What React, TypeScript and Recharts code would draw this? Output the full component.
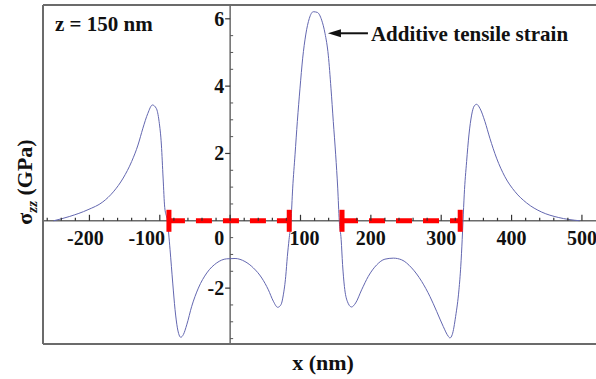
import { LineChart, Line, XAxis, YAxis, ReferenceLine, ReferenceDot } from "recharts";

// stress profile along x
const positionNm = [
  -251, -228, -202, -181, -166, -152, -140, -131, -124, -117, -110.5, -105, -101, -97.7, -95.3, -93,
  -89.2, -85.4, -81.6, -78.3, -75, -70.2, -66.5, -61.7, -54.6, -45.2, -33.2, -19, -5, 7, 21, 33, 45,
  54.3, 61.4, 67.6, 72.3, 75.6, 79, 81.3, 83.7, 86.5, 88.9, 92.2, 95.5, 99.3, 103.1, 107.4, 112.5,
  118.2, 123.9, 130.1, 134.8, 139.5, 143.3, 146.6, 150, 152.9, 155.1, 157.8, 159.8, 162.4, 166.5,
  172.5, 178.4, 186.9, 196.4, 208.3, 220, 232, 243.8, 258, 272.2, 284, 293.5, 302.9, 310, 312.4,
  315.7, 320.5, 325.2, 327.8, 329.8, 331, 332.7, 336.1, 339.4, 343.2, 346.9, 350.3, 355, 362.1,
  369.2, 378.7, 390.5, 404.7, 421.4, 442.7, 466.3, 497,
];
const sigmaGPa = [
  0, 0.13, 0.33, 0.56, 0.86, 1.27, 1.76, 2.25, 2.75, 3.19, 3.44, 3.34, 2.95, 2.25, 1.27, 0.4,
  0, -0.86, -1.85, -2.64, -3.18, -3.46, -3.38, -3.09, -2.54, -2.0, -1.55, -1.25, -1.13, -1.12, -1.21,
  -1.4, -1.7, -2.05, -2.39, -2.57, -2.49, -2.2, -1.65, -1.06, -0.56, 0, 0.97, 1.96, 2.95, 3.94, 4.83,
  5.52, 6.01, 6.21, 6.19, 5.96, 5.57, 4.92, 3.94, 2.95, 1.96, 0.97, 0, -0.56, -1.3, -1.95, -2.39,
  -2.56, -2.44, -2.05, -1.65, -1.31, -1.14, -1.11, -1.16, -1.4, -1.8, -2.25, -2.69, -3.14, -3.43,
  -3.48, -3.38, -2.84, -2.05, -1.35, -0.56, 0, 0.77, 1.76, 2.55, 3.14, 3.41, 3.46, 3.34, 2.95, 2.45,
  1.86, 1.31, 0.87, 0.53, 0.26, 0.1, 0,
];

const xMajorTicks = [-200, -100, 0, 100, 200, 300, 400, 500];
const xMinorTicks = [
  -260, -240, -220, -180, -160, -140, -120, -80, -60, -40, -20, 20, 40, 60, 80, 120, 140, 160, 180,
  220, 240, 260, 280, 320, 340, 360, 380, 420, 440, 460, 480,
];
const yMajorTicks = [-2, 2, 4, 6];
const yMinorTicks = [-3.5, -3, -2.5, -1.5, -1, -0.5, 0.5, 1, 1.5, 2.5, 3, 3.5, 4.5, 5, 5.5];

// red dashed regions on the x axis
const spanStart = [-87, 159];
const spanEnd = [84, 327];

const arrowTipX = 139;
const arrowTipY = 5.57;
const arrowText = "Additive tensile strain";

const xDomain = [-266, 520];
const yDomain = [-3.66, 6.41];

const data = positionNm.map((x, i) => ({ x, sigma: sigmaGPa[i] }));

const FONT = '"Liberation Serif", "Times New Roman", serif';
const AXIS = "#6b6b6b";
const nudge: Record<number, number> = { [-200]: -4, [-100]: -13, 0: -11, 100: 4 };

function XTick(props: any) {
  const { cx, cy, len, label } = props;
  return (
    <g>
      <line x1={cx} y1={cy} x2={cx} y2={cy - len} stroke="#333" strokeWidth={1.2} />
      {label !== undefined && (
        <text x={cx + (nudge[label] || 0)} y={cy + 24} textAnchor="middle" fontFamily={FONT}
          fontWeight="bold" fontSize={20} fill="#111">
          {label}
        </text>
      )}
    </g>
  );
}

function YTick(props: any) {
  const { cx, cy, major, label } = props;
  return (
    <g>
      {major ? (
        <line x1={cx - 5} y1={cy} x2={cx} y2={cy} stroke="#333" strokeWidth={1.2} />
      ) : (
        <line x1={cx} y1={cy} x2={cx + 3} y2={cy} stroke="#555" strokeWidth={1} />
      )}
      {label !== undefined && (
        <text x={cx - 6} y={cy + 7} textAnchor="end" fontFamily={FONT} fontWeight="bold"
          fontSize={20} fill="#111">
          {label}
        </text>
      )}
    </g>
  );
}

function Cap(props: any) {
  const { cx, cy } = props;
  return <rect x={cx - 2.5} y={cy - 11} width={5} height={22} fill="#ff0000" />;
}

function Arrow(props: any) {
  const { cx, cy } = props;
  return (
    <g>
      <line x1={cx + 10} y1={cy} x2={cx + 40} y2={cy} stroke="#111" strokeWidth={2} />
      <path d={`M${cx},${cy} L${cx + 13},${cy - 4} L${cx + 13},${cy + 4} Z`} fill="#111" />
      <text x={cx + 43} y={cy} dy="0.35em" fontFamily={FONT} fontWeight="bold" fontSize={21}
        fill="#111">
        {arrowText}
      </text>
    </g>
  );
}

export default function App() {
  return (
    <div style={{ position: "absolute", left: 0, top: 0, width: 596, height: 379, background: "#fff" }}>
      <LineChart width={596} height={379} data={data} margin={{ top: 5, right: 0, left: 43, bottom: 35 }}>
        <XAxis type="number" dataKey="x" domain={xDomain} hide allowDataOverflow />
        <YAxis type="number" domain={yDomain} hide allowDataOverflow />

        <ReferenceLine x={xDomain[0]} stroke={AXIS} strokeWidth={2} ifOverflow="visible" />
        <ReferenceLine y={yDomain[1]} stroke={AXIS} strokeWidth={2} ifOverflow="visible" />
        <ReferenceLine y={yDomain[0]} stroke={AXIS} strokeWidth={2} ifOverflow="visible" />
        <ReferenceLine x={0} stroke={AXIS} strokeWidth={1.5} />
        <ReferenceLine y={0} stroke={AXIS} strokeWidth={1.5} />

        {xMinorTicks.map((t) => (
          <ReferenceDot key={`xm${t}`} x={t} y={0} ifOverflow="visible"
            shape={(p: any) => <XTick {...p} len={3} />} />
        ))}
        {xMajorTicks.map((t) => (
          <ReferenceDot key={`xM${t}`} x={t} y={0} ifOverflow="visible"
            shape={(p: any) => <XTick {...p} len={6} label={t} />} />
        ))}
        {yMinorTicks.map((t) => (
          <ReferenceDot key={`ym${t}`} x={0} y={t} ifOverflow="visible"
            shape={(p: any) => <YTick {...p} />} />
        ))}
        {yMajorTicks.map((t) => (
          <ReferenceDot key={`yM${t}`} x={0} y={t} ifOverflow="visible"
            shape={(p: any) => <YTick {...p} major label={t} />} />
        ))}

        <Line type="monotone" dataKey="sigma" stroke="#6367b0" strokeWidth={1} dot={false}
          activeDot={false} isAnimationActive={false} />

        {spanStart.map((s, i) => (
          <ReferenceLine key={`span${i}`} segment={[{ x: s, y: 0 }, { x: spanEnd[i], y: 0 }]}
            stroke="#ff0000" strokeWidth={5} strokeDasharray="16 11" ifOverflow="visible" />
        ))}
        {[...spanStart, ...spanEnd].map((s) => (
          <ReferenceDot key={`cap${s}`} x={s} y={0} ifOverflow="visible" shape={(p: any) => <Cap {...p} />} />
        ))}

        <ReferenceDot x={arrowTipX} y={arrowTipY} ifOverflow="visible" shape={(p: any) => <Arrow {...p} />} />

        <text x={55} y={31} fontFamily={FONT} fontWeight="bold" fontSize={21} fill="#111">
          z = 150 nm
        </text>
        <text x={323} y={370} textAnchor="middle" fontFamily={FONT} fontWeight="bold" fontSize={22}
          fill="#111">
          x (nm)
        </text>
        <text transform="translate(32,182) rotate(-90)" textAnchor="middle" fontFamily={FONT}
          fontWeight="bold" fontSize={22} fill="#111">
          σ
          <tspan fontStyle="italic" fontSize={15} dy={5}>zz</tspan>
          <tspan dy={-5}> (GPa)</tspan>
        </text>
      </LineChart>
    </div>
  );
}
